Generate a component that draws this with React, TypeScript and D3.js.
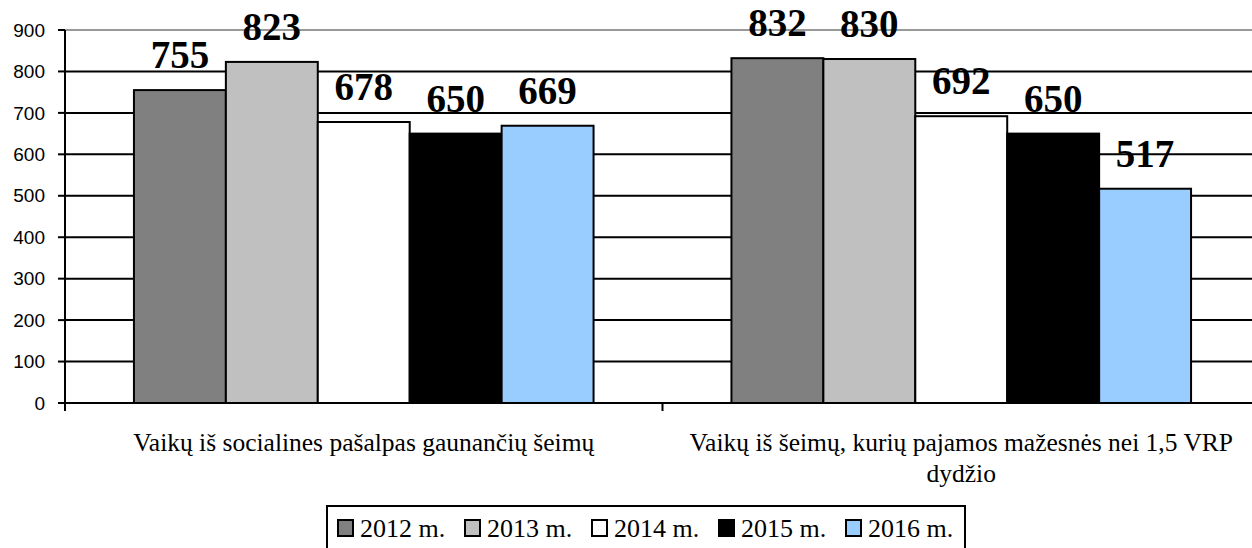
import React, { useEffect, useRef } from 'react';
import * as d3 from 'd3';

const categories = [
  'Vaikų iš socialines pašalpas gaunančių šeimų',
  'Vaikų iš šeimų, kurių pajamos mažesnės nei 1,5 VRP dydžio',
];
const years = ['2012 m.', '2013 m.', '2014 m.', '2015 m.', '2016 m.'];
const values2012 = [755, 832];
const values2013 = [823, 830];
const values2014 = [678, 692];
const values2015 = [650, 650];
const values2016 = [669, 517];
const yTicks = [0, 100, 200, 300, 400, 500, 600, 700, 800, 900];
const colors = ['#808080', '#C0C0C0', '#FFFFFF', '#000000', '#99CCFF'];

const W = 1252;
const H = 548;
const PLOT = { left: 65, right: 1260, top: 30, bottom: 403 };
const SERIF = '"Liberation Serif", "Times New Roman", serif';
const SANS = '"Liberation Sans", Arial, sans-serif';

const App: React.FC = () => {
  const svgRef = useRef<SVGSVGElement>(null);

  useEffect(() => {
    if (!svgRef.current) return;
    const svg = d3.select(svgRef.current);
    svg.selectAll('*').remove();

    const series = [values2012, values2013, values2014, values2015, values2016];

    const x0 = d3.scaleBand<string>()
      .domain(categories)
      .range([PLOT.left, PLOT.right])
      .paddingInner(0)
      .paddingOuter(0);

    const x1 = d3.scaleBand<string>()
      .domain(years)
      .range([0, x0.bandwidth()])
      .paddingInner(0)
      .paddingOuter(0.75);

    const y = d3.scaleLinear()
      .domain([0, 900])
      .range([PLOT.bottom, PLOT.top]);

    // gridlines
    svg.append('g')
      .selectAll('line')
      .data(yTicks.filter(t => t > 0))
      .enter()
      .append('line')
      .attr('x1', PLOT.left)
      .attr('x2', W)
      .attr('y1', d => y(d))
      .attr('y2', d => y(d))
      .attr('stroke', d => (d === 900 ? '#999999' : '#000'))
      .attr('stroke-width', 2);

    // bars
    const groups = svg.append('g')
      .selectAll('g')
      .data(categories)
      .enter()
      .append('g')
      .attr('transform', d => `translate(${x0(d)},0)`);

    groups.selectAll('rect')
      .data((_, ci) => years.map((yr, si) => ({ yr, si, v: series[si][ci] })))
      .enter()
      .append('rect')
      .attr('x', d => x1(d.yr)!)
      .attr('y', d => y(d.v))
      .attr('width', x1.bandwidth())
      .attr('height', d => y(0) - y(d.v))
      .attr('fill', d => colors[d.si])
      .attr('stroke', '#000')
      .attr('stroke-width', 2);

    // value labels
    groups.selectAll('text')
      .data((_, ci) => years.map((yr, si) => ({ yr, si, v: series[si][ci] })))
      .enter()
      .append('text')
      .attr('x', d => x1(d.yr)! + x1.bandwidth() / 2)
      .attr('y', d => y(d.v) - 22)
      .attr('text-anchor', 'middle')
      .style('font-family', SERIF)
      .style('font-size', '39px')
      .style('font-weight', 'bold')
      .text(d => d.v);

    // y axis
    const yAxis = svg.append('g');
    yAxis.append('line')
      .attr('x1', PLOT.left).attr('x2', PLOT.left)
      .attr('y1', PLOT.top).attr('y2', PLOT.bottom + 8)
      .attr('stroke', '#000').attr('stroke-width', 2);
    yAxis.selectAll('.tick')
      .data(yTicks)
      .enter()
      .append('line')
      .attr('x1', PLOT.left - 7).attr('x2', PLOT.left)
      .attr('y1', d => y(d)).attr('y2', d => y(d))
      .attr('stroke', '#000').attr('stroke-width', 2);
    yAxis.selectAll('text')
      .data(yTicks)
      .enter()
      .append('text')
      .attr('x', 45)
      .attr('y', d => y(d))
      .attr('dy', '0.35em')
      .attr('text-anchor', 'end')
      .style('font-family', SANS)
      .style('font-size', '19px')
      .text(d => d);

    // x axis
    const xAxis = svg.append('g');
    xAxis.append('line')
      .attr('x1', PLOT.left).attr('x2', W)
      .attr('y1', y(0)).attr('y2', y(0))
      .attr('stroke', '#000').attr('stroke-width', 2);
    xAxis.selectAll('.tick')
      .data(categories.slice(1))
      .enter()
      .append('line')
      .attr('x1', d => x0(d)!).attr('x2', d => x0(d)!)
      .attr('y1', y(0)).attr('y2', y(0) + 8)
      .attr('stroke', '#000').attr('stroke-width', 2);

    const catLabels = xAxis.selectAll('.cat')
      .data(categories)
      .enter()
      .append('text')
      .attr('class', 'cat')
      .attr('x', d => x0(d)! + x0.bandwidth() / 2)
      .attr('y', 451)
      .attr('text-anchor', 'middle')
      .style('font-family', SERIF)
      .style('font-size', '25.5px');

    // simple word wrap
    catLabels.each(function (d) {
      const text = d3.select(this);
      const cx = +text.attr('x');
      const words = d.split(' ');
      let line: string[] = [];
      let tspan = text.append('tspan').attr('x', cx).attr('dy', 0);
      words.forEach(w => {
        line.push(w);
        tspan.text(line.join(' '));
        if ((tspan.node() as SVGTSpanElement).getComputedTextLength() > 580 && line.length > 1) {
          line.pop();
          tspan.text(line.join(' '));
          line = [w];
          tspan = text.append('tspan').attr('x', cx).attr('dy', 31).text(w);
        }
      });
    });

    // legend
    const legend = svg.append('g').attr('transform', 'translate(327,506)');
    legend.append('rect')
      .attr('x', 0).attr('y', 0)
      .attr('width', 638).attr('height', 60)
      .attr('fill', '#fff')
      .attr('stroke', '#000')
      .attr('stroke-width', 2);

    const items = legend.selectAll('.item')
      .data(years)
      .enter()
      .append('g')
      .attr('transform', (_, i) => `translate(${11 + i * 127},0)`);
    items.append('rect')
      .attr('x', 0).attr('y', 14)
      .attr('width', 15).attr('height', 16)
      .attr('fill', (_, i) => colors[i])
      .attr('stroke', '#000')
      .attr('stroke-width', 2);
    items.append('text')
      .attr('x', 22)
      .attr('y', 31)
      .style('font-family', SERIF)
      .style('font-size', '26px')
      .text(d => d);
  }, []);

  return (
    <svg
      ref={svgRef}
      width={W}
      height={H}
      style={{ position: 'absolute', left: 0, top: 0, background: '#fff' }}
    />
  );
};

export default App;
